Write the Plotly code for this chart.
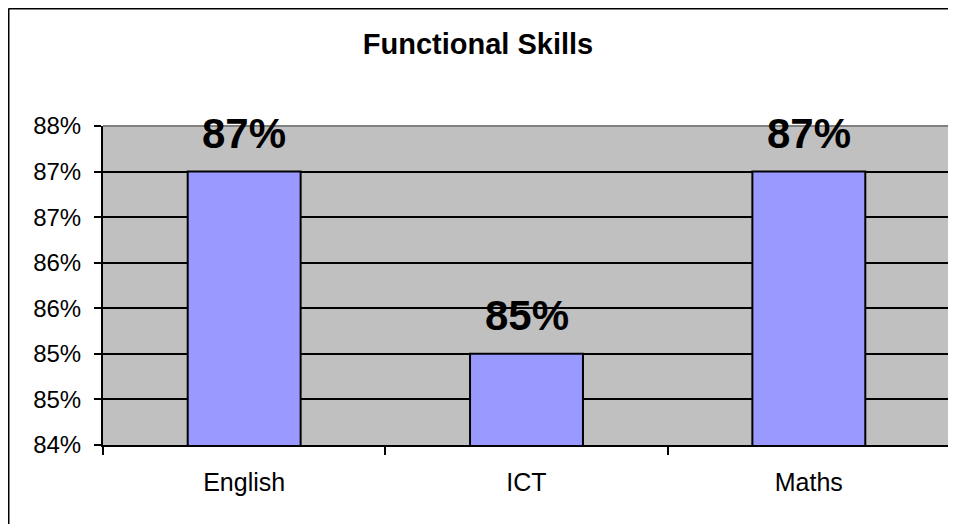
import plotly.graph_objects as go

# Data
subjects = ['English', 'ICT', 'Maths']
pass_rate = [0.87, 0.85, 0.87]
label_text = ['87%', '85%', '87%']
y_tick_values = [0.84, 0.845, 0.85, 0.855, 0.86, 0.865, 0.87, 0.875]
y_tick_labels = ['84%', '85%', '85%', '86%', '86%', '87%', '87%', '88%']

FONT = 'Liberation Sans, Arial, sans-serif'

# the page body has an 8px margin, so figure pixel = page pixel - 8
ML, MR, MT, MB = 95, 14, 118, 87
PW = 956 - ML - MR
PH = 524 - MT - MB

fig = go.Figure(go.Bar(
    x=subjects,
    y=pass_rate,
    width=0.4,
    marker=dict(color='#9999FF', line=dict(color='black', width=2)),
    showlegend=False,
))

# data labels (Excel style, bold above each bar)
for s, v, t in zip(subjects, pass_rate, label_text):
    fig.add_annotation(x=s, y=v, text='<b>%s</b>' % t, showarrow=False,
                       yanchor='middle', yshift=38,
                       font=dict(family=FONT, size=42, color='black'))

# grey plot-area border on top and right
fig.add_shape(type='line', xref='paper', yref='paper', x0=0, x1=1, y0=1, y1=1,
              line=dict(color='#808080', width=2), layer='above')
fig.add_shape(type='line', xref='paper', yref='paper', x0=1, x1=1, y0=0, y1=1,
              line=dict(color='#808080', width=2), layer='above')

# outer chart border (only left and top visible in the picture)
bx = (0.5 - ML) / PW
by = 1 + (MT - 0.5) / PH
fig.add_shape(type='line', xref='paper', yref='paper', x0=bx, x1=bx, y0=by, y1=-1,
              line=dict(color='black', width=2))
fig.add_shape(type='line', xref='paper', yref='paper', x0=bx, x1=1.2, y0=by, y1=by,
              line=dict(color='black', width=2))

fig.update_layout(
    width=956, height=524,
    margin=dict(l=ML, r=MR, t=MT, b=MB),
    paper_bgcolor='white',
    plot_bgcolor='#C0C0C0',
    font=dict(family=FONT, size=25, color='black'),
    title=dict(text='<b>Functional Skills</b>', x=470 / 956, xanchor='center',
               y=1 - 36 / 524, yanchor='middle',
               font=dict(family=FONT, size=29, color='black')),
    bargap=0.6,
)
fig.update_xaxes(
    showline=True, linecolor='black', linewidth=2,
    ticks='outside', tickson='boundaries', ticklen=8, tickwidth=2, tickcolor='black',
    showgrid=False, ticklabelstandoff=14,
)
fig.update_yaxes(
    range=[0.84, 0.875], tickvals=y_tick_values, ticktext=y_tick_labels,
    showline=True, linecolor='black', linewidth=2,
    ticks='outside', ticklen=7, tickwidth=2, tickcolor='black',
    showgrid=True, gridcolor='black', gridwidth=2, zeroline=False,
    ticklabelstandoff=8, tickfont=dict(size=24),
)

fig.write_html('out.html')
